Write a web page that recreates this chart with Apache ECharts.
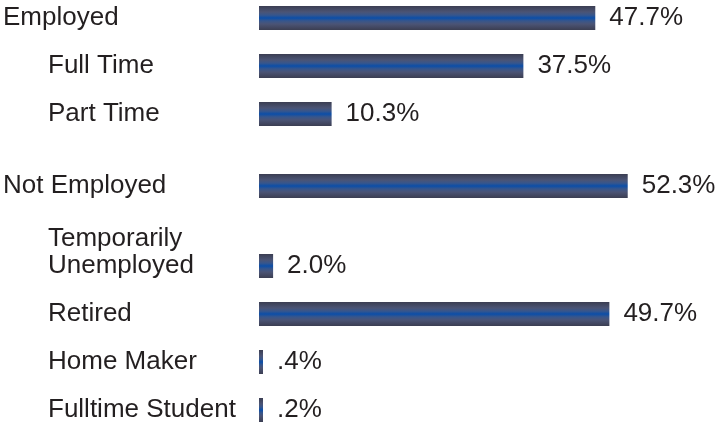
<!DOCTYPE html>
<html>
<head>
<meta charset="utf-8">
<script src="https://cdn.jsdelivr.net/npm/echarts@6/dist/echarts.min.js"></script>
<style>html,body{margin:0;padding:0;background:#fff}#c{width:725px;height:426px}</style>
</head>
<body>
<div id="c"></div>
<script>
// ---- data ----
const employedCats = ['Employed', 'Full Time', 'Part Time'];
const employedVals = [47.7, 37.5, 10.3];
const notEmployedCats = ['Not Employed'];
const notEmployedVals = [52.3];
const statusCats = ['Temporarily Unemployed', 'Retired', 'Home Maker', 'Fulltime Student'];
const statusVals = [2.0, 49.7, 0.4, 0.2];
const topLevelCats = ['Employed', 'Not Employed'];
const wrappedLabels = { 'Temporarily Unemployed': ['Temporarily', 'Unemployed'] };

// ---- style ----
const FONT = 'Liberation Sans, Arial, Helvetica, sans-serif';
const TEXT = '#231f20';
const FS = 26;
const barGrad = new echarts.graphic.LinearGradient(0, 0, 0, 1, [
  { offset: 0, color: '#3b3e52' },
  { offset: 0.25, color: '#4b5475' },
  { offset: 0.38, color: '#37568c' },
  { offset: 0.5, color: '#0b4ea8' },
  { offset: 0.62, color: '#37568c' },
  { offset: 0.75, color: '#4b5475' },
  { offset: 1, color: '#3b3e52' }
]);

function labelFmt(name) {
  if (topLevelCats.indexOf(name) >= 0) return '{top|' + name + '}';
  if (wrappedLabels[name]) {
    return wrappedLabels[name].map(l => '{sub|' + l + '}').join('\n') + '\n{sub| }';
  }
  return '{sub|' + name + '}';
}
function valFmt(p) {
  let s = Number(p.value).toFixed(1);
  if (s.startsWith('0')) s = s.slice(1);
  return s + '%';
}

const grids = [
  { left: 259, right: 43, top: -6, height: 144, outerBoundsMode: 'none', containLabel: false },
  { left: 259, right: 43, top: 162, height: 48, outerBoundsMode: 'none', containLabel: false },
  { left: 259, right: 43, top: 242, height: 192, outerBoundsMode: 'none', containLabel: false }
];
const groups = [
  [employedCats, employedVals],
  [notEmployedCats, notEmployedVals],
  [statusCats, statusVals]
];

const option = {
  animation: false,
  backgroundColor: '#ffffff',
  grid: grids,
  xAxis: grids.map((g, i) => ({
    type: 'value', gridIndex: i, min: 0, max: 60,
    show: false
  })),
  yAxis: groups.map((g, i) => ({
    type: 'category', gridIndex: i, data: g[0], inverse: true,
    axisLine: { show: false }, axisTick: { show: false }, splitLine: { show: false },
    axisLabel: {
      interval: 0, align: 'left', margin: 256, verticalAlign: 'middle',
      formatter: labelFmt,
      rich: {
        top: { fontSize: FS, fontFamily: FONT, color: TEXT, lineHeight: 27 },
        sub: { fontSize: FS, fontFamily: FONT, color: TEXT, lineHeight: 27, padding: [0, 0, 0, 45] }
      }
    }
  })),
  series: groups.map((g, i) => ({
    type: 'bar', xAxisIndex: i, yAxisIndex: i, data: g[1],
    barWidth: 24, barMinHeight: 4,
    itemStyle: { color: barGrad },
    emphasis: { disabled: true },
    label: {
      show: true, position: 'right', distance: 14,
      formatter: valFmt,
      fontSize: FS, fontFamily: FONT, color: TEXT
    }
  }))
};
const chart = echarts.init(document.getElementById('c'));
chart.setOption(option);
</script>
</body>
</html>
